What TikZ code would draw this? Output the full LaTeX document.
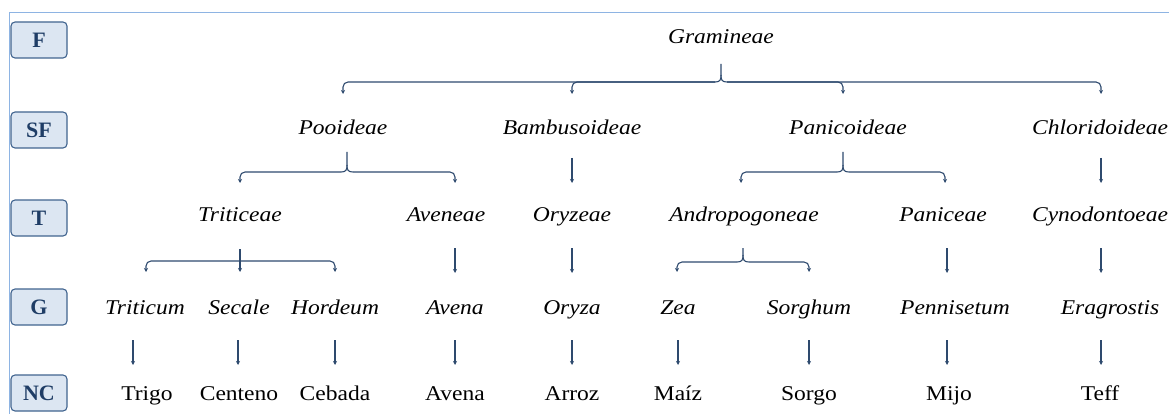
\documentclass[tikz,border=0pt]{standalone}
\usepackage{fontspec}
\setmainfont[FakeStretch=1.12]{Liberation Serif}
\newfontfamily\lvlfont{Liberation Serif}
\usetikzlibrary{calc,arrows.meta}
\definecolor{frameblue}{HTML}{8EB4E3}
\definecolor{boxfill}{HTML}{DCE6F2}
\definecolor{boxline}{HTML}{41648F}
\definecolor{boxtext}{HTML}{1F3D66}
\definecolor{linkcol}{HTML}{2E4A6E}
\begin{document}
\begin{tikzpicture}[x=1pt,y=-1pt,
  lvl/.style={draw=boxline, fill=boxfill, line width=1.1pt, rounded corners=4pt,
    minimum width=56pt, minimum height=36pt, inner sep=0pt,
    font=\lvlfont\fontsize{22}{26}\selectfont\bfseries, text=boxtext},
  taxon/.style={inner sep=0pt, anchor=base, font=\fontsize{21}{25}\selectfont\itshape},
  common/.style={inner sep=0pt, anchor=base, font=\fontsize{21}{25}\selectfont},
  ln/.style={draw=linkcol, line width=1.1pt},
  arr/.style={ln, -{Stealth[length=4pt,width=4pt]}},
  bar/.style={arr, rounded corners=5pt}]
\useasboundingbox (0,0) rectangle (1169,414);
% frame lines
\draw[frameblue, line width=1pt] (1169,13) -- (9,13) -- (9,414);

% rank labels
\node[lvl] (rF)  at (39,40)  {F};
\node[lvl] (rSF) at (39,130) {SF};
\node[lvl] (rT)  at (39,218) {T};
\node[lvl] (rG)  at (39,307) {G};
\node[lvl] (rNC) at (39,393) {NC};

% family
\node[taxon] (gram) at (721,44) {Gramineae};
% subfamilies
\node[taxon] (pooid) at (343,135) {Pooideae};
\node[taxon] (bambu) at (572,135) {Bambusoideae};
\node[taxon] (panic) at (848,135) {Panicoideae};
\node[taxon] (chlor) at (1100,135) {Chloridoideae};
% tribes
\node[taxon] (trit)   at (240,221) {Triticeae};
\node[taxon] (aven)   at (446,221) {Aveneae};
\node[taxon] (oryz)   at (572,221) {Oryzeae};
\node[taxon] (andro)  at (744,221) {Andropogoneae};
\node[taxon] (panice) at (943,221) {Paniceae};
\node[taxon] (cynod)  at (1100,221) {Cynodontoeae};
% genera
\node[taxon] (triticum) at (145,314) {Triticum};
\node[taxon] (secale)   at (239,314) {Secale};
\node[taxon] (hordeum)  at (335,314) {Hordeum};
\node[taxon] (avena)    at (455,314) {Avena};
\node[taxon] (oryza)    at (572,314) {Oryza};
\node[taxon] (zea)      at (678,314) {Zea};
\node[taxon] (sorghum)  at (809,314) {Sorghum};
\node[taxon] (pennis)   at (955,314) {Pennisetum};
\node[taxon] (eragr)    at (1110,314) {Eragrostis};
% common names
\node[common] (trigo)   at (147,400) {Trigo};
\node[common] (centeno) at (239,400) {Centeno};
\node[common] (cebada)  at (335,400) {Cebada};
\node[common] (avenanc) at (455,400) {Avena};
\node[common] (arroz)   at (572,400) {Arroz};
\node[common] (maiz)    at (678,400) {Maíz};
\node[common] (sorgo)   at (809,400) {Sorgo};
\node[common] (mijo)    at (949,400) {Mijo};
\node[common] (teff)    at (1100,400) {Teff};

% brace-style splits
\coordinate (gbar) at (721,82);
\coordinate (pbar) at (347,172);
\coordinate (nbar) at (843,172);
\coordinate (tbar) at (240,261);
\coordinate (abar) at (743,262);

% Gramineae
\draw[ln] ([yshift=-20]gram.base) -- ($(gbar)+(0,-7)$)
  .. controls ($(gbar)+(0,-2)$) and ($(gbar)+(-1,0)$) .. ($(gbar)+(-6,0)$);
\draw[ln] ($(gbar)+(0,-7)$)
  .. controls ($(gbar)+(0,-2)$) and ($(gbar)+(1,0)$) .. ($(gbar)+(6,0)$);
\draw[bar] ($(gbar)+(-6,0)$) -| ([yshift=41]pooid.base);
\draw[bar] ($(gbar)+(-6,0)$) -| ([yshift=41]bambu.base);
\draw[bar] ($(gbar)+(6,0)$) -| ([xshift=-5,yshift=41]panic.base);
\draw[bar] ($(gbar)+(6,0)$) -| ([xshift=1,yshift=41]chlor.base);

% Pooideae
\draw[ln] ([xshift=4,yshift=-17]pooid.base) -- ($(pbar)+(0,-7)$)
  .. controls ($(pbar)+(0,-2)$) and ($(pbar)+(-1,0)$) .. ($(pbar)+(-6,0)$);
\draw[ln] ($(pbar)+(0,-7)$)
  .. controls ($(pbar)+(0,-2)$) and ($(pbar)+(1,0)$) .. ($(pbar)+(6,0)$);
\draw[bar] ($(pbar)+(-6,0)$) -| ([yshift=38]trit.base);
\draw[bar] ($(pbar)+(6,0)$) -| ([xshift=9,yshift=38]aven.base);

% Panicoideae
\draw[ln] ([xshift=-5,yshift=-17]panic.base) -- ($(nbar)+(0,-7)$)
  .. controls ($(nbar)+(0,-2)$) and ($(nbar)+(-1,0)$) .. ($(nbar)+(-6,0)$);
\draw[ln] ($(nbar)+(0,-7)$)
  .. controls ($(nbar)+(0,-2)$) and ($(nbar)+(1,0)$) .. ($(nbar)+(6,0)$);
\draw[bar] ($(nbar)+(-6,0)$) -| ([xshift=-3,yshift=38]andro.base);
\draw[bar] ($(nbar)+(6,0)$) -| ([xshift=2,yshift=38]panice.base);

% single descents, subfamily to tribe
\draw[arr] ([yshift=-23]bambu.base) -- ([yshift=38]oryz.base);
\draw[arr] ([xshift=1,yshift=-23]chlor.base) -- ([xshift=1,yshift=38]cynod.base);

% Triticeae
\draw[ln] ([yshift=-28]trit.base) -- (tbar);
\draw[bar] (tbar) -| ([xshift=1,yshift=42]triticum.base);
\draw[arr] (tbar) -- ([xshift=1,yshift=42]secale.base);
\draw[bar] (tbar) -| ([yshift=42]hordeum.base);

% Andropogoneae
\draw[ln] ([xshift=-1,yshift=-27]andro.base) -- ($(abar)+(0,-7)$)
  .. controls ($(abar)+(0,-2)$) and ($(abar)+(-1,0)$) .. ($(abar)+(-6,0)$);
\draw[ln] ($(abar)+(0,-7)$)
  .. controls ($(abar)+(0,-2)$) and ($(abar)+(1,0)$) .. ($(abar)+(6,0)$);
\draw[bar] ($(abar)+(-6,0)$) -| ([xshift=-1,yshift=42]zea.base);
\draw[bar] ($(abar)+(6,0)$) -| ([yshift=42]sorghum.base);

% single descents, tribe to genus
\draw[arr] ([xshift=9,yshift=-27]aven.base) -- ([yshift=41]avena.base);
\draw[arr] ([yshift=-27]oryz.base) -- ([yshift=41]oryza.base);
\draw[arr] ([xshift=4,yshift=-27]panice.base) -- ([xshift=-8,yshift=41]pennis.base);
\draw[arr] ([xshift=1,yshift=-27]cynod.base) -- ([xshift=-9,yshift=41]eragr.base);

% genus to common name
\draw[arr] ([xshift=-12,yshift=-26]triticum.base) -- ([xshift=-14,yshift=35]trigo.base);
\draw[arr] ([xshift=-1,yshift=-26]secale.base) -- ([xshift=-1,yshift=35]centeno.base);
\draw[arr] ([yshift=-26]hordeum.base) -- ([yshift=35]cebada.base);
\draw[arr] ([yshift=-26]avena.base) -- ([yshift=35]avenanc.base);
\draw[arr] ([yshift=-26]oryza.base) -- ([yshift=35]arroz.base);
\draw[arr] ([yshift=-26]zea.base) -- ([yshift=35]maiz.base);
\draw[arr] ([yshift=-26]sorghum.base) -- ([yshift=35]sorgo.base);
\draw[arr] ([xshift=-8,yshift=-26]pennis.base) -- ([xshift=-2,yshift=35]mijo.base);
\draw[arr] ([xshift=-9,yshift=-26]eragr.base) -- ([xshift=1,yshift=35]teff.base);
\end{tikzpicture}
\end{document}
